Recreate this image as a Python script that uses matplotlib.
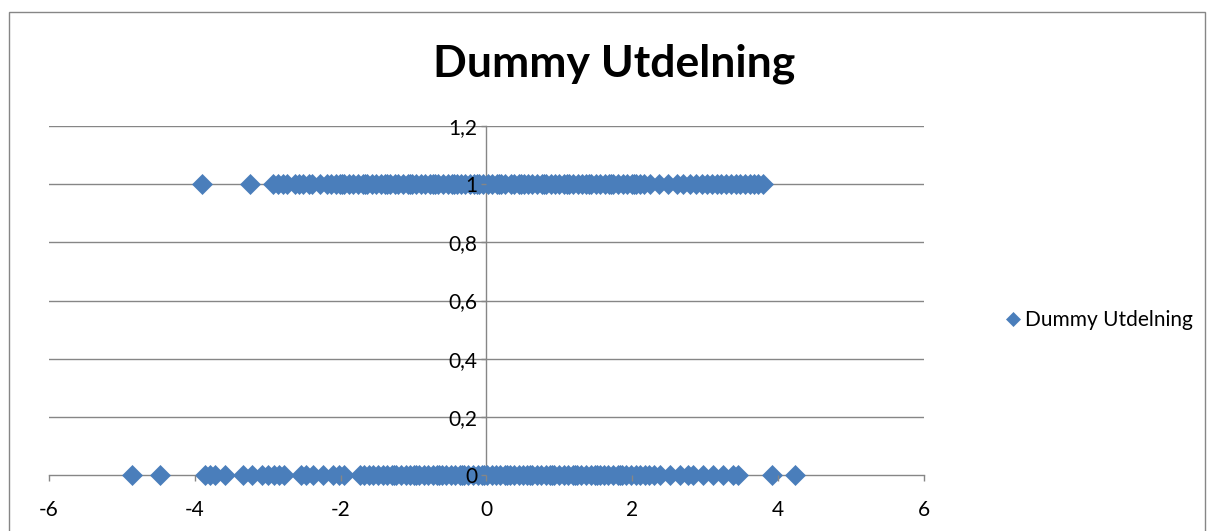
import matplotlib
matplotlib.use("Agg")
import matplotlib.pyplot as plt
from matplotlib.patches import Rectangle

# ---- data ----
title = "Dummy Utdelning"
series_name = "Dummy Utdelning"

top_x = [-3.90, -3.24, -2.93, -2.86, -2.79, -2.73, -2.63, -2.57, -2.52, -2.44, -2.39,
         -2.28, -2.19, -2.13, -2.06, -2.01, -1.95, -1.88, -1.83, -1.76, -1.70, -1.64,
         -1.57, -1.52, -1.45, -1.39, -1.33, -1.26, -1.21, -1.14, -1.08, -1.02, -0.96,
         -0.90, -0.84, -0.77, -0.71, -0.66, -0.59, -0.53, -0.47, -0.41, -0.35, -0.29,
         -0.22, -0.17, -0.10, -0.05, 0.02, 0.08, 0.14, 0.20, 0.26, 0.33, 0.38, 0.45,
         0.51, 0.57, 0.63, 0.69, 0.76, 0.81, 0.88, 0.94, 1.00, 1.06, 1.13, 1.18, 1.25,
         1.31, 1.37, 1.43, 1.50, 1.55, 1.62, 1.68, 1.74, 1.80, 1.87, 1.93, 1.99, 2.05,
         2.11, 2.16, 2.24, 2.36, 2.49, 2.61, 2.70, 2.79, 2.88, 2.96, 3.02, 3.09, 3.16,
         3.22, 3.29, 3.35, 3.42, 3.48, 3.55, 3.61, 3.67, 3.73, 3.79,
         -1.98, -1.67, -1.36, -1.05, -0.74, -0.44, -0.13, 0.17, 0.48, 0.79, 1.10, 1.40,
         1.71, 2.02]
top_y = [1] * len(top_x)

bottom_x = [-4.86, -4.48, -3.86, -3.79, -3.72, -3.59, -3.34, -3.22, -3.08, -2.99, -2.91,
            -2.84, -2.78, -2.55, -2.47, -2.38, -2.24, -2.11, -2.02, -1.96, -1.74, -1.68,
            -1.61, -1.55, -1.49, -1.42, -1.36, -1.30, -1.24, -1.17, -1.11, -1.05, -0.99,
            -0.92, -0.86, -0.80, -0.74, -0.68, -0.61, -0.56, -0.49, -0.43, -0.37, -0.31,
            -0.25, -0.18, -0.12, -0.06, 0.01, 0.07, 0.13, 0.19, 0.25, 0.32, 0.38, 0.44,
            0.50, 0.56, 0.62, 0.69, 0.75, 0.81, 0.87, 0.93, 0.99, 1.06, 1.12, 1.18, 1.24,
            1.30, 1.36, 1.43, 1.49, 1.55, 1.61, 1.67, 1.74, 1.80, 1.86, 1.92, 1.98, 2.05,
            2.11, 2.17, 2.23, 2.30, 2.38, 2.52, 2.65, 2.76, 2.83, 2.97, 3.11, 3.24, 3.38,
            3.45, 3.92, 4.23,
            -1.27, -0.96, -0.65, -0.34, -0.03, 0.28, 0.59, 0.90, 1.21, 1.52, 1.83]
bottom_y = [0] * len(bottom_x)

x_ticks = [-6, -4, -2, 0, 2, 4, 6]
x_tick_labels = ["-6", "-4", "-2", "0", "2", "4", "6"]
y_ticks = [0, 0.2, 0.4, 0.6, 0.8, 1.0, 1.2]
y_tick_labels = ["0", "0,2", "0,4", "0,6", "0,8", "1", "1,2"]

# ---- style ----
plt.rcParams['font.family'] = ['Lato', 'DejaVu Sans']
W, H = 1208, 531
fig = plt.figure(figsize=(W / 100, H / 100), dpi=100)
grid_col = "#868686"
mk_face = "#4A7EBB"
tick_fs = 15

# outer chart border
fig.patches.append(Rectangle((9 / W, -0.05), (1205 - 9) / W, 1.05 - 12 / H,
                             transform=fig.transFigure, fill=False,
                             edgecolor=grid_col, linewidth=1.0))

ax = fig.add_axes([49 / W, 56 / H, (924 - 49) / W, (475 - 126) / H])
ax.set_xlim(-6, 6)
ax.set_ylim(0, 1.2)

# horizontal gridlines (behind markers)
for yv in y_ticks[1:]:
    ax.axhline(yv, color=grid_col, linewidth=1.0, zorder=1)

xs = top_x + bottom_x
ys = top_y + bottom_y
ax.plot(xs, ys, linestyle='none', marker='D', markersize=10.4,
        markerfacecolor=mk_face, markeredgecolor=mk_face, markeredgewidth=0.5,
        label=series_name, zorder=3, clip_on=False)

ax.set_yticks(y_ticks)
ax.set_yticklabels(y_tick_labels)
ax.set_xticks(x_ticks)
ax.set_xticklabels(x_tick_labels)

for s in ['top', 'right']:
    ax.spines[s].set_visible(False)
ax.spines['left'].set_position(('data', 0))
ax.spines['bottom'].set_position(('data', 0))
for s in ['left', 'bottom']:
    ax.spines[s].set_color(grid_col)
    ax.spines[s].set_linewidth(1.0)
    ax.spines[s].set_zorder(2)

ax.tick_params(axis='x', direction='out', length=4.3, width=1.0, color=grid_col,
               labelsize=tick_fs, pad=14, labelcolor='black')
ax.tick_params(axis='y', direction='out', length=3.6, width=1.0, color=grid_col,
               labelsize=tick_fs, pad=3, labelcolor='black')
for lbl in ax.get_yticklabels():
    lbl.set_verticalalignment('center_baseline')
# tick labels drawn on top of the markers, as in the reference
ax.yaxis.set_zorder(4)
ax.xaxis.set_zorder(4)

fig.text(614 / W, 1 - 77 / H, title, ha='center', va='baseline',
         fontsize=32, fontweight='bold')

leg = fig.legend(loc='center left', bbox_to_anchor=(993 / W, 1 - 320 / H),
                 frameon=False, fontsize=tick_fs, handletextpad=0.05,
                 handlelength=1.1, markerscale=0.7, borderaxespad=0)

fig.savefig("out.png", dpi=100)
